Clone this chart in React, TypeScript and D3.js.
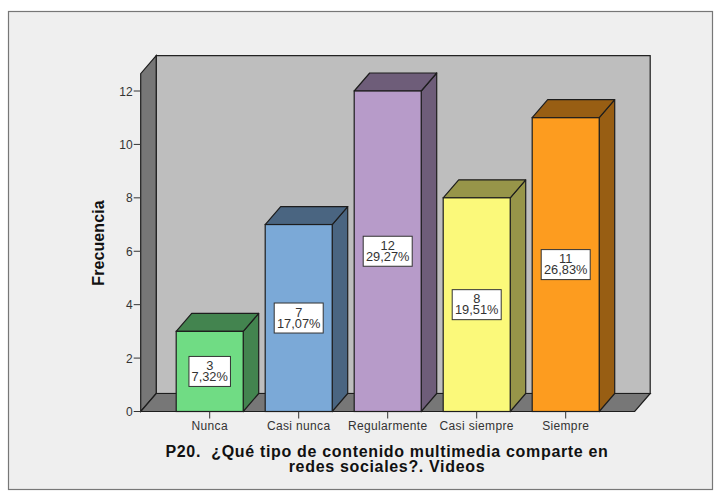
import React from "react";
import * as d3 from "d3";

const categories = ["Nunca", "Casi nunca", "Regularmente", "Casi siempre", "Siempre"];
const counts = [3, 7, 12, 8, 11];
const percents = ["7,32%", "17,07%", "29,27%", "19,51%", "26,83%"];
const colors = ["#70DC84", "#7BA9D7", "#B79BC9", "#FBF97A", "#FD9C1F"];
const yTicks = [0, 2, 4, 6, 8, 10, 12];
const yTitle = "Frecuencia";
const xTitle = ["P20.  ¿Qué tipo de contenido multimedia comparte en", "redes sociales?. Videos"];

const W = 718, H = 499;
const DX = 15.5, DY = -18;
const LEFT = 140.7, RIGHT = 634.7, Y0 = 411.5;
const FONT = "'Liberation Sans', Arial, sans-serif";
const EDGE = "#1d1d1d";

function shade(c: string) {
  const r = d3.rgb(c);
  return d3.rgb(r.r * 0.6, r.g * 0.6, r.b * 0.6).formatHex();
}

export default function App() {
  const x = d3.scaleBand<string>().domain(categories).range([165.2, 610.2]).paddingInner(0.247).paddingOuter(0.1235);
  const y = d3.scaleLinear().domain([0, 12]).range([Y0, 91]);
  const yTop = y(12.65);
  const poly = (p: number[][]) => p.map(q => q.join(",")).join(" ");
  return (
    <svg width={W} height={H} style={{ position: "absolute", left: 0, top: 0, display: "block", background: "#fff" }}>
      <rect x={8.5} y={11.5} width={704} height={478} fill="#EFEFEF" stroke="#777" strokeWidth={1.2} />
      <rect x={LEFT + DX} y={yTop + DY} width={RIGHT - LEFT} height={Y0 - yTop} fill="#BEBEBE" stroke={EDGE} strokeWidth={1.2} />
      <polygon points={poly([[LEFT, Y0], [LEFT, yTop], [LEFT + DX, yTop + DY], [LEFT + DX, Y0 + DY]])} fill="#777" stroke={EDGE} strokeWidth={1.2} />
      <polygon points={poly([[LEFT, Y0], [RIGHT, Y0], [RIGHT + DX, Y0 + DY], [LEFT + DX, Y0 + DY]])} fill="#777" stroke={EDGE} strokeWidth={1.2} />
      {yTicks.map(t => (
        <g key={t}>
          <line x1={LEFT - 7} x2={LEFT} y1={y(t)} y2={y(t)} stroke="#333" />
          <text x={LEFT - 8} y={y(t) + 4.5} textAnchor="end" fontFamily={FONT} fontSize={12} fill="#333">{t}</text>
        </g>
      ))}
      <text transform={`translate(104,243) rotate(-90)`} textAnchor="middle" fontFamily={FONT} fontSize={16} fontWeight="bold" letterSpacing={0.1} fill="#111">{yTitle}</text>
      {categories.map((c, i) => {
        const x0 = x(c)!, bw = x.bandwidth(), x1 = x0 + bw, top = y(counts[i]);
        const dark = shade(colors[i]);
        const cx = x0 + bw / 2, cy = y(counts[i] / 2);
        const bwLabel = percents[i].length > 5 ? 49 : 41.5;
        return (
          <g key={c}>
            <polygon points={poly([[x1, Y0], [x1, top], [x1 + DX, top + DY], [x1 + DX, Y0 + DY]])} fill={dark} stroke={EDGE} strokeWidth={1.2} strokeLinejoin="round" />
            <polygon points={poly([[x0, top], [x1, top], [x1 + DX, top + DY], [x0 + DX, top + DY]])} fill={dark} stroke={EDGE} strokeWidth={1.2} strokeLinejoin="round" />
            <rect x={x0} y={top} width={bw} height={Y0 - top} fill={colors[i]} stroke={EDGE} strokeWidth={1.2} />
            <rect x={cx - bwLabel / 2} y={cy - 15} width={bwLabel} height={30} fill="#fff" stroke="#333" strokeWidth={1} />
            <text x={cx} y={cy - 1.5} textAnchor="middle" fontFamily={FONT} fontSize={12.8} fill="#333">
              <tspan x={cx}>{counts[i]}</tspan>
              <tspan x={cx} dy={11}>{percents[i]}</tspan>
            </text>
            <line x1={cx} x2={cx} y1={Y0} y2={Y0 + 7} stroke="#333" />
            <text x={cx} y={430} textAnchor="middle" fontFamily={FONT} fontSize={12} letterSpacing={0.35} fill="#333">{c}</text>
          </g>
        );
      })}
      <text y={456.5} textAnchor="middle" style={{ whiteSpace: "pre" }} fontFamily={FONT} fontSize={16} fontWeight="bold" letterSpacing={0.67} fill="#111">
        {xTitle.map((l, i) => (
          <tspan key={i} x={387} dy={i === 0 ? 0 : 15.5}>{l}</tspan>
        ))}
      </text>
    </svg>
  );
}
